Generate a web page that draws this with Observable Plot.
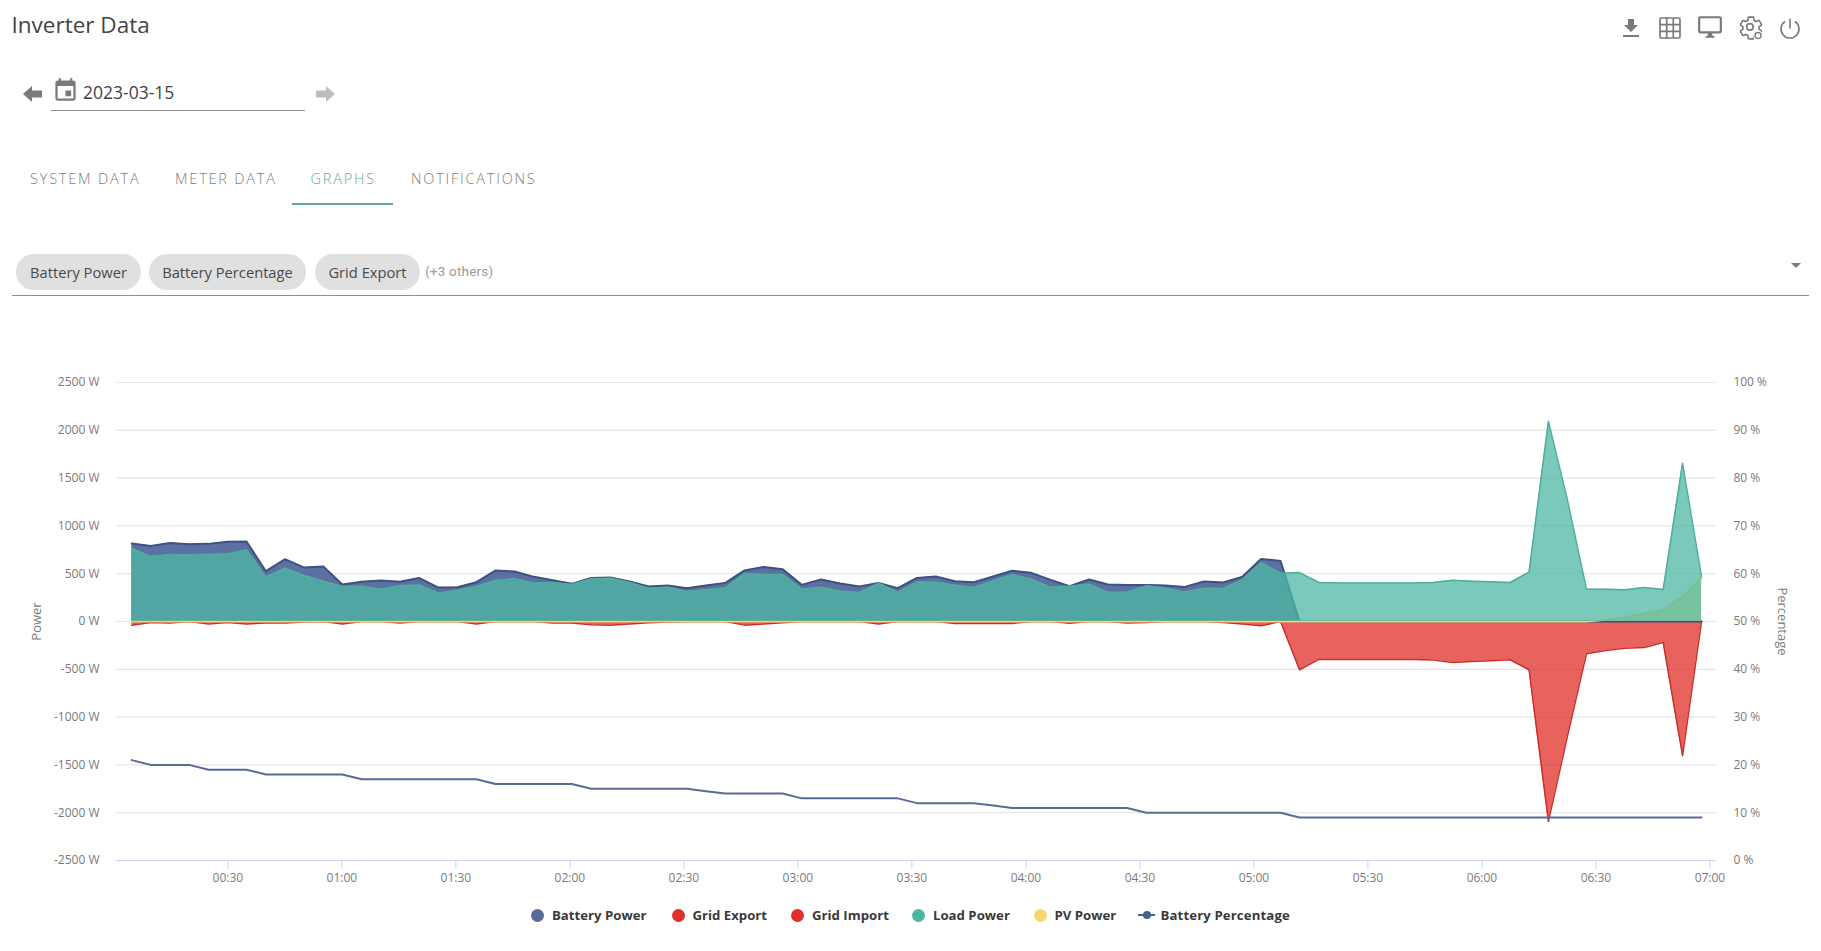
<!DOCTYPE html>
<html>
<head>
<meta charset="utf-8">
<script src="https://cdn.jsdelivr.net/npm/d3@7"></script>
<script src="https://cdn.jsdelivr.net/npm/@observablehq/plot@0.6"></script>
<style>
html,body{margin:0;padding:0;background:#fff;}
#page{position:relative;width:1821px;height:951px;overflow:hidden;font-family:"Open Sans",sans-serif;color:#444;}
#page>*{position:absolute;}
.t{white-space:nowrap;line-height:1;}
#title{left:11.5px;top:14px;font-size:22.5px;color:#444;}
#date{left:83px;top:83.5px;font-size:17.5px;color:#444;}
.hr{background:#8f8f8f;height:1px;}
.tab{top:172px;font-size:14.5px;font-weight:300;letter-spacing:1.8px;color:#7c7c7c;}
.chip{top:254px;height:36px;border-radius:18px;background:#e0e0e0;line-height:36px;text-align:center;font-size:14.7px;color:#4a4a4a;white-space:nowrap;}
#others{left:425px;top:265px;font-family:Roboto,sans-serif;font-size:13.5px;color:#9a9a9a;letter-spacing:.2px;}
.ic{fill:#7a7a7a;}
#chart{left:0;top:360px;}
.lg{top:908.500px;font-size:13.2px;font-weight:700;color:#3a3a3a;}
.dot{top:908.500px;width:13px;height:13px;border-radius:50%;}
</style>
</head>
<body>
<div id="page">
  <div id="title" class="t">Inverter Data</div>
  <svg style="left:1619px;top:16px" width="24" height="24" viewBox="0 0 24 24"><path class="ic" d="M19 9h-4V3H9v6H5l7 7 7-7zM4 19v2h16v-2H4z"/></svg>
  <svg style="left:1658px;top:16px" width="24" height="24" viewBox="0 0 24 24" fill="none" stroke="#7a7a7a" stroke-width="1.7"><rect x="2" y="2" width="20" height="20" rx="1.5"/><path d="M8.7 2v20M15.3 2v20M2 8.7h20M2 15.3h20"/></svg>
  <svg style="left:1697px;top:14px" width="26" height="26" viewBox="0 0 24 24"><path class="ic" d="M21 2H3c-1.1 0-2 .9-2 2v12c0 1.1.9 2 2 2h7v2H8v2h8v-2h-2v-2h7c1.1 0 2-.9 2-2V4c0-1.1-.9-2-2-2zm0 14H3V4h18v12z"/></svg>
  <svg style="left:1738px;top:15px" width="26" height="26" viewBox="0 0 24 24" fill="none" stroke="#7a7a7a" stroke-width="1.5"><path d="M19.43 12.98c.04-.32.07-.64.07-.98 0-.34-.03-.66-.07-.98l2.11-1.65c.19-.15.24-.42.12-.64l-2-3.46c-.09-.16-.26-.25-.44-.25-.06 0-.12.01-.17.03l-2.49 1c-.52-.4-1.08-.73-1.69-.98l-.38-2.65C14.46 2.18 14.25 2 14 2h-4c-.25 0-.46.18-.49.42l-.38 2.65c-.61.25-1.17.59-1.69.98l-2.49-1c-.06-.02-.12-.03-.18-.03-.17 0-.34.09-.43.25l-2 3.46c-.13.22-.07.49.12.64l2.11 1.65c-.04.32-.07.65-.07.98 0 .33.03.66.07.98l-2.11 1.65c-.19.15-.24.42-.12.64l2 3.46c.09.16.26.25.44.25.06 0 .12-.01.17-.03l2.49-1c.52.4 1.08.73 1.69.98l.38 2.65c.03.24.24.42.49.42h4c.25 0 .46-.18.49-.42l.38-2.65c.61-.25 1.17-.59 1.69-.98l2.49 1c.06.02.12.03.18.03.17 0 .34-.09.43-.25l2-3.46c.12-.22.07-.49-.12-.64l-2.11-1.65z"/><circle cx="11" cy="11" r="3"/><circle cx="18.500" cy="19" r="4.600" fill="#fff" stroke="none"/><circle cx="18.500" cy="19" r="2.800" stroke-width="1.300"/></svg>
  <svg style="left:1778px;top:16px" width="24" height="24" viewBox="0 0 24 24" fill="none" stroke="#7a7a7a" stroke-width="1.6"><path d="M12 2.5v10M7 5.5a9 9 0 1 0 10 0"/></svg>

  <svg style="left:23px;top:85px" width="19" height="18" viewBox="0 0 19 18"><path class="ic" d="M0 9 9 1v4.500h10v7H9V17z"/></svg>
  <svg style="left:51.500px;top:77px" width="27" height="27" viewBox="0 0 24 24"><path class="ic" d="M17 12h-5v5h5v-5zM16 1v2H8V1H6v2H5c-1.110 0-1.990.9-1.990 2L3 19c0 1.100.89 2 2 2h14c1.100 0 2-.9 2-2V5c0-1.100-.9-2-2-2h-1V1h-2zm3 18H5V8h14v11z"/></svg>
  <div id="date" class="t">2023-03-15</div>
  <div class="hr" style="left:51px;top:110px;width:254px"></div>
  <svg style="left:316px;top:85px" width="19" height="18" viewBox="0 0 19 18"><path fill="#bdbdbd" d="M19 9 10 1v4.500H0v7h10V17z"/></svg>

  <div class="tab t" style="left:30px">SYSTEM DATA</div>
  <div class="tab t" style="left:175px">METER DATA</div>
  <div class="tab t" style="left:310.500px;color:#5fa99b">GRAPHS</div>
  <div class="tab t" style="left:411px">NOTIFICATIONS</div>
  <div style="left:292px;top:203px;width:101px;height:2px;background:#5fa89c"></div>

  <div class="chip" style="left:16px;width:125px">Battery Power</div>
  <div class="chip" style="left:149px;width:157px">Battery Percentage</div>
  <div class="chip" style="left:315px;width:105px">Grid Export</div>
  <div id="others" class="t">(+3 others)</div>
  <svg style="left:1790px;top:262px" width="12" height="7" viewBox="0 0 12 7"><path class="ic" d="M1 1h10L6 6z"/></svg>
  <div class="hr" style="left:12px;top:295px;width:1797px"></div>

  <div id="chart"></div>

  <div class="dot" style="left:530.500px;background:#5a6b9b"></div><div class="lg t" style="left:552px">Battery Power</div>
  <div class="dot" style="left:671.500px;background:#e0302a"></div><div class="lg t" style="left:692.500px">Grid Export</div>
  <div class="dot" style="left:791px;background:#e0302a"></div><div class="lg t" style="left:812px">Grid Import</div>
  <div class="dot" style="left:912.300px;background:#4db7a4"></div><div class="lg t" style="left:933px">Load Power</div>
  <div class="dot" style="left:1033.500px;background:#f5d76e"></div><div class="lg t" style="left:1054.500px">PV Power</div>
  <div style="left:1138px;top:914px;width:17px;height:2px;background:#4a5e90"></div>
  <div style="left:1142.500px;top:911px;width:8px;height:8px;border-radius:50%;background:#4a5e90"></div>
  <div class="lg t" style="left:1160.500px;letter-spacing:.12px">Battery Percentage</div>
</div>
<script>
// Sample times, minutes after midnight
const minutes = [4.7,9.7,14.8,19.8,24.9,29.9,34.9,40.0,45.0,50.1,55.1,60.1,65.2,70.2,75.3,80.3,85.4,90.4,95.4,100.4,105.4,110.5,115.5,120.5,125.6,130.6,135.7,140.7,145.8,150.8,155.8,160.9,165.9,171.0,176.0,181.0,186.1,191.1,196.2,201.2,206.3,211.3,216.3,221.3,226.3,231.4,236.4,241.4,246.5,251.5,256.6,261.6,266.6,271.7,276.7,281.8,286.8,291.9,296.9,301.9,307.0,312.0,317.1,322.1,327.1,332.2,337.2,342.3,347.2,352.3,357.3,362.3,367.4,372.4,377.5,382.5,387.5,392.6,397.6,402.7,407.7,412.8,417.8];
const batteryPower = [815,790,822,808,812,833,836,526,651,564,575,387,415,428,415,456,355,359,411,533,523,467,432,394,456,460,418,366,376,348,376,404,533,571,547,383,439,397,366,404,348,456,470,422,411,470,530,509,435,369,439,387,383,383,376,362,418,408,467,655,634,0,0,0,0,0,0,0,0,0,0,0,0,0,0,0,0,0,0,0,0,0,0];
const loadPower = [766,679,700,697,704,707,749,467,557,481,422,366,369,338,373,383,296,327,366,428,449,400,408,387,446,453,408,348,359,314,331,352,502,491,491,338,359,317,303,401,307,411,411,380,355,425,491,442,359,369,390,307,307,373,348,310,348,345,435,617,505,512,408,404,404,404,404,404,408,432,422,415,408,516,2094,1272,338,338,331,355,334,1655,467];
const gridImport = [-40,-10,-15,0,-25,-10,-25,-15,-15,-5,0,-25,0,0,-15,0,0,0,-25,0,0,0,-15,-15,-35,-40,-25,-12,-5,0,0,0,-38,-25,-12,0,0,0,0,-25,0,0,0,-20,-20,-20,-20,0,0,-18,0,0,-15,-10,0,0,0,-10,-25,-45,0,-505,-397,-397,-397,-397,-397,-397,-404,-429,-418,-411,-400,-505,-2090,-1202,-338,-303,-279,-272,-219,-1404,0];
const gridExport = [0,0,0,0,0,0,0,0,0,0,0,0,0,0,0,0,0,0,0,0,0,0,0,0,0,0,0,0,0,0,0,0,0,0,0,0,0,0,0,0,0,0,0,0,0,0,0,0,0,0,0,0,0,0,0,0,0,0,0,0,0,0,0,0,0,0,0,0,0,0,0,0,0,0,0,0,0,0,0,0,0,0,0];
const pvPower = [0,0,0,0,0,0,0,0,0,0,0,0,0,0,0,0,0,0,0,0,0,0,0,0,0,0,0,0,0,0,0,0,0,0,0,0,0,0,0,0,0,0,0,0,0,0,0,0,0,0,0,0,0,0,0,0,0,0,0,0,0,0,0,0,0,0,0,0,0,0,0,0,0,0,0,0,0,17,45,80,122,261,453];
const batteryPercentage = [21,20,20,20,19,19,19,18,18,18,18,18,17,17,17,17,17,17,17,16,16,16,16,16,15,15,15,15,15,15,14.5,14,14,14,14,13,13,13,13,13,13,12,12,12,12,11.5,11,11,11,11,11,11,11,10,10,10,10,10,10,10,10,9,9,9,9,9,9,9,9,9,9,9,9,9,9,9,9,9,9,9,9,9,9];
const powerTicks = [-2500,-2000,-1500,-1000,-500,0,500,1000,1500,2000,2500];
const timeTicks = [30,60,90,120,150,180,210,240,270,300,330,360,390,420];
const timeDomain = [0.55,421.84];

const at = m => new Date(Date.UTC(2023,2,15,0,0,Math.round(m*60)));
const rows = minutes.map((m,i)=>({
  t: at(m),
  battery: batteryPower[i], load: loadPower[i], gridIn: gridImport[i], gridOut: gridExport[i], pv: pvPower[i],
  pct: batteryPercentage[i]
}));
const pctToPower = p => (p-50)*50;       // both axes share one pixel range
const powerToPct = w => w/50+50;

const series = (key, fill, fillOpacity, stroke, sw) => [
  Plot.areaY(rows,{x:"t",y:key,fill,fillOpacity}),
  Plot.lineY(rows,{x:"t",y:key,stroke,strokeWidth:sw})
];

const chart = Plot.plot({
  width:1821, height:540,
  marginLeft:115.5, marginRight:104.6, marginTop:22, marginBottom:40,
  style:{fontFamily:'"Open Sans",sans-serif',fontSize:"12px",background:"transparent"},
  x:{type:"utc",domain:timeDomain.map(at)},
  y:{domain:[-2500,2500]},
  marks:[
    Plot.ruleY(powerTicks,{stroke:d=>d===-2500?"#ccd6eb":"#e6e6e6",strokeWidth:1.2}),
    Plot.axisY(powerTicks,{anchor:"left",tickSize:0,tickPadding:16.5,fill:"#7a7a7a",fontVariant:"normal",tickFormat:d=>`${d} W`,label:null}),
    Plot.axisY(powerTicks,{anchor:"right",tickSize:0,tickPadding:16.5,fill:"#7a7a7a",fontVariant:"normal",tickFormat:d=>`${powerToPct(d)} %`,label:null}),
    Plot.axisX(timeTicks.map(at),{anchor:"bottom",tickSize:9,tickPadding:4,stroke:"#ccd6eb",fill:"#7a7a7a",fontVariant:"normal",tickFormat:d3.utcFormat("%H:%M"),label:null}),
    Plot.text(["Power"],{frameAnchor:"left",textAnchor:"middle",rotate:-90,dx:-79,fill:"#7a7a7a",fontSize:13}),
    Plot.text(["Percentage"],{frameAnchor:"right",textAnchor:"middle",rotate:90,dx:65,fill:"#7a7a7a",fontSize:13}),
    ...series("gridOut","#e02f28",0.75,"#c9302c",1.5),
    ...series("gridIn","#e02f28",0.75,"#c9302c",1.5),
    ...series("battery","#3f5790",0.85,"#3b5282",2),
    ...series("pv","#f5d76e",0.75,"#f2d56b",2),
    ...series("load","#4db7a4",0.75,"#4fae9e",1.5),
    Plot.lineY(rows,{x:"t",y:d=>pctToPower(d.pct),stroke:"#5a6b96",strokeWidth:2})
  ]
});
document.getElementById("chart").appendChild(chart);
</script>
</body>
</html>
